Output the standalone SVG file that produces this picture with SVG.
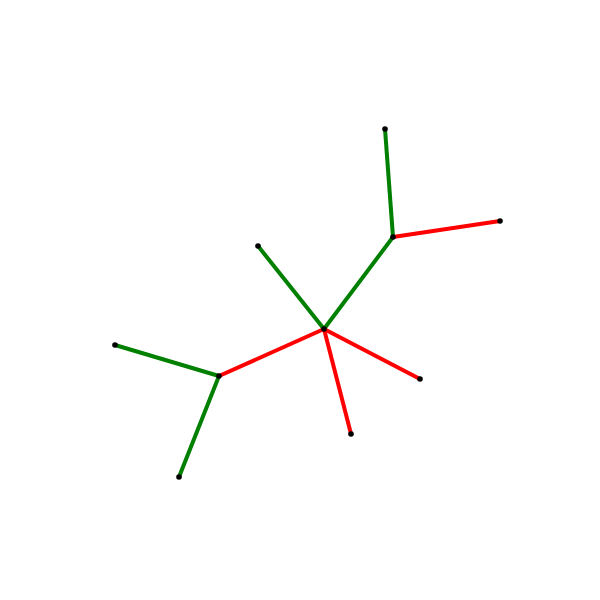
<svg xmlns="http://www.w3.org/2000/svg" width="600" height="600" viewBox="0 0 600 600">
<style>
.g{stroke:#008000;stroke-width:4;fill:none}
.r{stroke:#ff0000;stroke-width:4;fill:none}
.n{fill:#000}
</style>
<rect width="600" height="600" fill="#fff"/>
<g id="edges">
<line class="g" x1="324" y1="329" x2="393" y2="237"/>
<line class="g" x1="393" y1="237" x2="385" y2="129"/>
<line class="r" x1="393" y1="237" x2="500" y2="221"/>
<line class="g" x1="324" y1="329" x2="258" y2="246"/>
<line class="r" x1="324" y1="329" x2="219" y2="376"/>
<line class="g" x1="219" y1="376" x2="115" y2="345"/>
<line class="g" x1="219" y1="376" x2="179" y2="477"/>
<line class="r" x1="324" y1="329" x2="420" y2="379"/>
<line class="r" x1="324" y1="329" x2="351" y2="434"/>
</g>
<g id="n0"><circle class="n" cx="324" cy="329" r="2.8"/></g>
<g id="n1"><circle class="n" cx="393" cy="237" r="2.8"/></g>
<g id="n2"><circle class="n" cx="385" cy="129" r="2.8"/></g>
<g id="n3"><circle class="n" cx="500" cy="221" r="2.8"/></g>
<g id="n4"><circle class="n" cx="258" cy="246" r="2.8"/></g>
<g id="n5"><circle class="n" cx="219" cy="376" r="2.8"/></g>
<g id="n6"><circle class="n" cx="115" cy="345" r="2.8"/></g>
<g id="n7"><circle class="n" cx="179" cy="477" r="2.8"/></g>
<g id="n8"><circle class="n" cx="420" cy="379" r="2.8"/></g>
<g id="n9"><circle class="n" cx="351" cy="434" r="2.8"/></g>
</svg>
